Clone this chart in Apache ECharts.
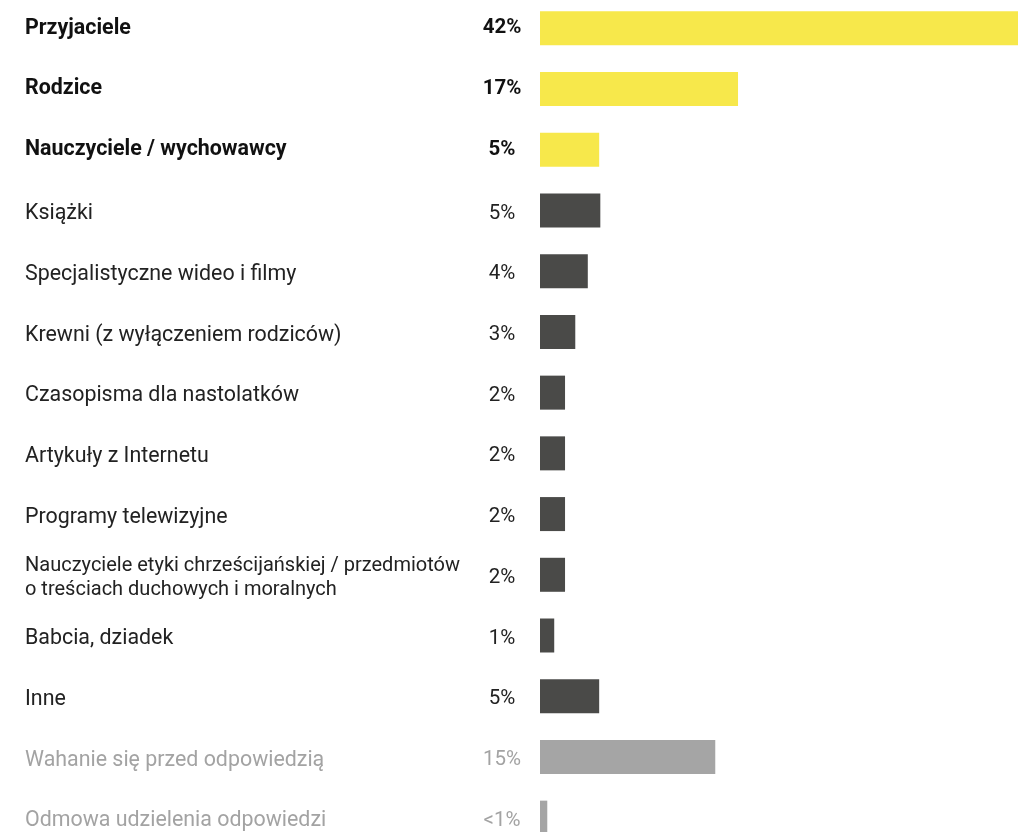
<!DOCTYPE html>
<html>
<head>
<meta charset="utf-8">
<title>Źródła wiedzy</title>
<script src="https://cdn.jsdelivr.net/npm/echarts@6/dist/echarts.min.js"></script>
<style>
	html, body {
		margin: 0;
		padding: 0;
		background: #ffffff;
		overflow: hidden;
	}
	#main {
		width: 1018px;
		height: 850px;
		margin-top: -2px;
	}
</style>
</head>
<body>
<div id="main"></div>
<script>
	// kategorie (od góry do dołu)
	var categories = [
		'Przyjaciele',
		'Rodzice',
		'Nauczyciele / wychowawcy',
		'Książki',
		'Specjalistyczne wideo i filmy',
		'Krewni (z wyłączeniem rodziców)',
		'Czasopisma dla nastolatków',
		'Artykuły z Internetu',
		'Programy telewizyjne',
		'Nauczyciele etyki chrześcijańskiej / przedmiotów\no treściach duchowych i moralnych',
		'Babcia, dziadek',
		'Inne',
		'Wahanie się przed odpowiedzią',
		'Odmowa udzielenia odpowiedzi'
	]
	var values = [42, 17.4, 5.2, 5.3, 4.2, 3.1, 2.2, 2.2, 2.2, 2.2, 1.25, 5.2, 15.4, 0.64]
	// etykiety procentowe
	var pctLabels = ['42%', '17%', '5%', '5%', '4%', '3%', '2%', '2%', '2%', '2%', '1%', '5%', '15%', '<1%']
	// grupa: top = wyróżnione, mid = pozostałe, grey = brak odpowiedzi
	var groups = ['top', 'top', 'top', 'mid', 'mid', 'mid', 'mid', 'mid', 'mid', 'mid', 'mid', 'mid', 'grey', 'grey']

	var barColor = { top: '#f7e84b', mid: '#4a4a48', grey: '#a5a5a5' }
	var textColor = { top: '#111111', mid: '#222222', grey: '#a3a3a3' }
	var textWeight = { top: 'bold', mid: 'normal', grey: 'normal' }

	var seriesData = values.map(function (v, i) {
		var g = groups[i]
		return {
			value: v,
			itemStyle: { color: barColor[g] },
			label: {
				color: textColor[g],
				fontWeight: textWeight[g],
				offset: g === 'top' ? [0, 0] : [0, 3]
			}
		}
	})

	var myChart = echarts.init(document.getElementById('main'))
	var option = {
		animation: false,
		backgroundColor: '#ffffff',
		grid: {
			left: 540,
			right: 0,
			top: 0,
			bottom: 0,
			containLabel: false
		},
		xAxis: {
			type: 'value',
			min: 0,
			max: 42,
			show: false
		},
		yAxis: {
			type: 'category',
			inverse: true,
			data: categories,
			axisLine: { show: false },
			axisTick: { show: false },
			splitLine: { show: false },
			axisLabel: {
				align: 'left',
				margin: 515,
				padding: [7, 0, 0, 0],
				fontFamily: 'Roboto',
				formatter: function (value, index) {
					var g = groups[index]
					if (value.indexOf('\n') >= 0) g = g + 'Small'
					return value.split('\n').map(function (line) {
						return '{' + g + '|' + line + '}'
					}).join('\n')
				},
				rich: {
					// dolny padding znosi przesunięcie dla pogrubionych
					top: { fontSize: 21.4, fontWeight: 'bold', color: textColor.top, fontFamily: 'Roboto', lineHeight: 24, padding: [0, 0, 7, 0] },
					mid: { fontSize: 21.4, color: textColor.mid, fontFamily: 'Roboto', lineHeight: 24 },
					midSmall: { fontSize: 20, color: textColor.mid, fontFamily: 'Roboto', lineHeight: 24 },
					grey: { fontSize: 21.4, color: textColor.grey, fontFamily: 'Roboto', lineHeight: 24 }
				}
			}
		},
		series: [
			{
				type: 'bar',
				data: seriesData,
				barWidth: 34,
				label: {
					show: true,
					position: 'left',
					distance: 38,
					align: 'center',
					fontSize: 20.5,
					fontFamily: 'Roboto',
					formatter: function (p) {
						return pctLabels[p.dataIndex]
					}
				}
			}
		]
	}
	myChart.setOption(option)
</script>
</body>
</html>
